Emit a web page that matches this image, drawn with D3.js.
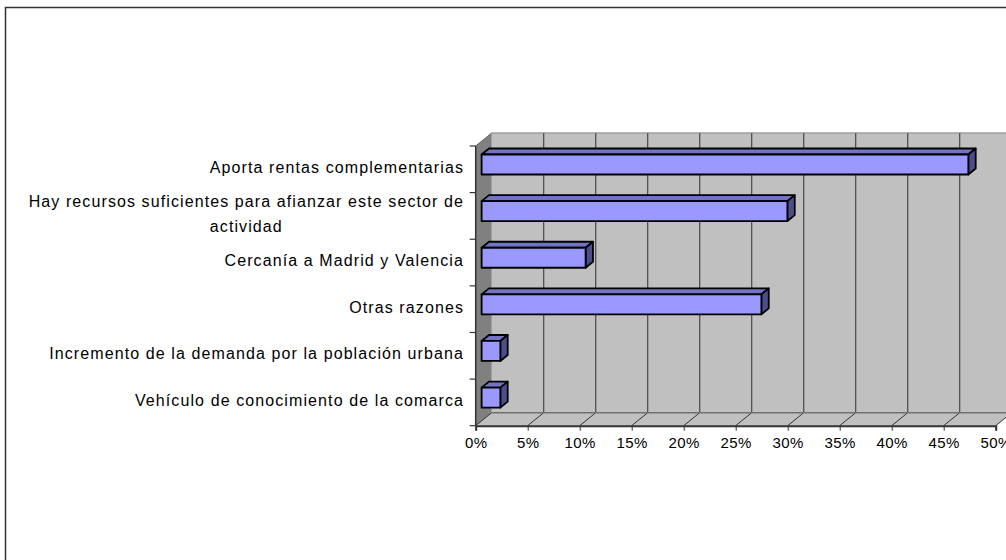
<!DOCTYPE html>
<html>
<head>
<meta charset="utf-8">
<script src="https://cdn.jsdelivr.net/npm/d3@7"></script>
<style>
  body { margin: 0; background: #fff; }
  text { font-family: "Liberation Sans", Arial, sans-serif; fill: #000; }
</style>
</head>
<body>
<div id="chart"></div>
<script>
// categories, top to bottom
var categories = [
  "Aporta rentas complementarias",
  "Hay recursos suficientes para afianzar este sector de|actividad",
  "Cercanía a Madrid y Valencia",
  "Otras razones",
  "Incremento de la demanda por la población urbana",
  "Vehículo de conocimiento de la comarca"
];
var values = [0.468, 0.294, 0.100, 0.269, 0.018, 0.018];
var ticks = [0, 0.05, 0.10, 0.15, 0.20, 0.25, 0.30, 0.35, 0.40, 0.45, 0.50];

var W = 1006, H = 560;
var depth = {dx: 16, dy: 13};   // oblique offset of back wall
var barZ = [0.37, 0.83];        // bar front/back depth fractions

var svg = d3.select("#chart").append("svg")
  .attr("width", W).attr("height", H);

// outer frame
svg.append("rect")
  .attr("x", 5.5).attr("y", 7.5).attr("width", 1010).attr("height", 600)
  .attr("fill", "#fff").attr("stroke", "#333").attr("stroke-width", 1.5);

var x = d3.scaleLinear().domain([0, 0.5]).range([475.7, 995.7]);
var y = d3.scaleBand().domain(categories).range([146, 425.7]);

var x0 = x(0), x1 = x(0.5), yTop = 146, yBot = 425.7;

function P(px, py, z) { return [px + z * depth.dx, py - z * depth.dy]; }
function poly(pts) { return pts.map(function(p) { return p.join(","); }).join(" "); }

// back wall
svg.append("polygon")
  .attr("points", poly([P(x0, yTop, 1), P(x1 + 20, yTop, 1), P(x1 + 20, yBot, 1), P(x0, yBot, 1)]))
  .attr("fill", "#c0c0c0");
svg.append("line")
  .attr("x1", x0 + depth.dx).attr("x2", W)
  .attr("y1", yTop - depth.dy).attr("y2", yTop - depth.dy)
  .attr("stroke", "#a0a0a0").attr("stroke-width", 1.5);

// left wall
svg.append("polygon")
  .attr("points", poly([P(x0, yTop, 0), P(x0, yTop, 1), P(x0, yBot, 1), P(x0, yBot, 0)]))
  .attr("fill", "#808080");

// floor
svg.append("polygon")
  .attr("points", poly([P(x0, yBot, 0), P(x0, yBot, 1), P(x1, yBot, 1), P(x1, yBot, 0)]))
  .attr("fill", "#c0c0c0");

// gridlines on back wall and floor
ticks.forEach(function(t) {
  var b = P(x(t), yBot, 1), a = P(x(t), yTop, 1), f = P(x(t), yBot, 0);
  if (t > 0) {
    svg.append("line")
      .attr("x1", a[0]).attr("y1", a[1]).attr("x2", b[0]).attr("y2", b[1])
      .attr("stroke", "#464646").attr("stroke-width", 1.2);
  }
  svg.append("line")
    .attr("x1", f[0]).attr("y1", f[1]).attr("x2", b[0]).attr("y2", b[1])
    .attr("stroke", "#303030").attr("stroke-width", 1);
});
// back floor edge
svg.append("line")
  .attr("x1", x0 + depth.dx).attr("x2", W)
  .attr("y1", yBot - depth.dy).attr("y2", yBot - depth.dy)
  .attr("stroke", "#707070").attr("stroke-width", 1.5);
// top-left edge
var tl0 = P(x0, yTop, 0), tl1 = P(x0, yTop, 1);
svg.append("line")
  .attr("x1", tl0[0]).attr("y1", tl0[1]).attr("x2", tl1[0]).attr("y2", tl1[1])
  .attr("stroke", "#606060").attr("stroke-width", 1);

// axes
var xAxis = d3.axisBottom(x).tickValues(ticks).tickSize(5).tickFormat(d3.format(".0%"));
var gx = svg.append("g").attr("transform", "translate(0," + yBot + ")").call(xAxis);
gx.select(".domain").attr("stroke", "#333").attr("stroke-width", 2);
gx.selectAll(".tick line").attr("stroke", "#333");
gx.selectAll("text").attr("font-size", 15).attr("dy", "0.95em")
  .attr("letter-spacing", "0.4px")
  .attr("font-family", "Liberation Sans, Arial, sans-serif");

var gy = svg.append("g").attr("transform", "translate(" + x0 + ",0)");
gy.append("line").attr("x1", 0).attr("x2", 0).attr("y1", yTop).attr("y2", yBot)
  .attr("stroke", "#333").attr("stroke-width", 1.5);
var bounds = categories.map(function(c) { return y(c); }).concat([yBot]);
gy.selectAll(".ytick").data(bounds).enter().append("line")
  .attr("x1", -6).attr("x2", 0)
  .attr("y1", function(d) { return d; }).attr("y2", function(d) { return d; })
  .attr("stroke", "#333").attr("stroke-width", 1.2);

// category labels
var labelX = 464;
categories.forEach(function(c) {
  var lines = c.split("|");
  var cy = y(c) + y.bandwidth() / 2 - 2;
  var lh = 25;
  var g = svg.append("g");
  var texts = lines.map(function(l, i) {
    return g.append("text")
      .attr("y", cy + (i - (lines.length - 1) / 2) * lh)
      .attr("dy", "0.35em")
      .attr("font-size", 16)
      .attr("letter-spacing", "1.1px")
      .text(l);
  });
  var widths = texts.map(function(t) { return t.node().getComputedTextLength(); });
  var maxW = d3.max(widths);
  texts.forEach(function(t, i) {
    t.attr("text-anchor", "middle").attr("x", labelX - maxW / 2);
  });
});

// bars
var barH = 20;
categories.forEach(function(c, i) {
  var v = values[i];
  var cy = y(c) + y.bandwidth() / 2;
  var top = cy - barH / 2, bot = cy + barH / 2;
  var a = barZ[0], b = barZ[1];
  var g = svg.append("g").attr("stroke", "#000").attr("stroke-width", 1.8)
    .attr("stroke-linejoin", "round");
  // top face
  g.append("polygon")
    .attr("points", poly([P(x0, top, a), P(x0, top, b), P(x(v), top, b), P(x(v), top, a)]))
    .attr("fill", "#7373c4");
  // side face
  g.append("polygon")
    .attr("points", poly([P(x(v), top, a), P(x(v), top, b), P(x(v), bot, b), P(x(v), bot, a)]))
    .attr("fill", "#4d4d8c");
  // front face
  g.append("polygon")
    .attr("points", poly([P(x0, top, a), P(x(v), top, a), P(x(v), bot, a), P(x0, bot, a)]))
    .attr("fill", "#9999ff");
});
</script>
</body>
</html>
